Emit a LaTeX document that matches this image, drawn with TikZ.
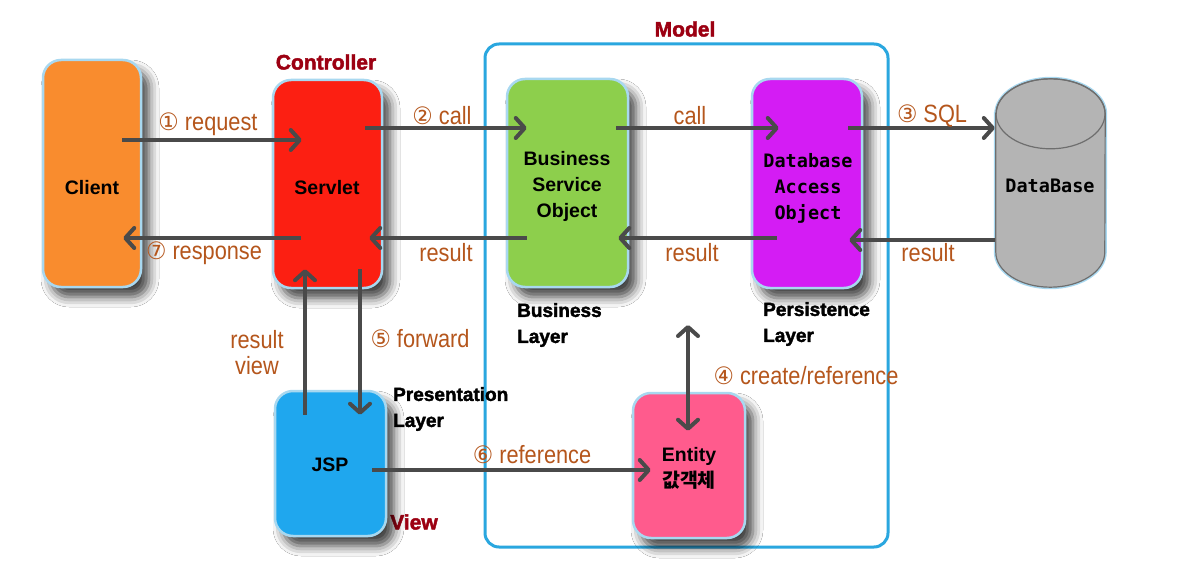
\documentclass[tikz,border=0pt]{standalone}
\usepackage{fontspec}
\setmainfont{Liberation Sans}
\newfontfamily\lblfont{Liberation Sans}[FakeStretch=0.87]
\newfontfamily\circfont{DejaVu Sans}[FakeStretch=0.95]
\newfontfamily\krfont{Noto Sans CJK KR}
\newfontfamily\mymono{DejaVu Sans Mono}
\newfontfamily\heavyfont{Liberation Sans Bold}[FakeBold=2]
\usetikzlibrary{arrows.meta,calc,shadows.blur}
\definecolor{clientc}{HTML}{F98C2E}
\definecolor{servletc}{HTML}{FC1F12}
\definecolor{bsoc}{HTML}{8DCF4C}
\definecolor{daoc}{HTML}{D41CF4}
\definecolor{dbc}{HTML}{B4B4B4}
\definecolor{dbedge}{HTML}{6E6E6E}
\definecolor{jspc}{HTML}{1FA7EE}
\definecolor{entc}{HTML}{FF5B8D}
\definecolor{modelc}{HTML}{2AA7DF}
\definecolor{glowc}{HTML}{A8D8F0}
\definecolor{lblc}{HTML}{B5561C}
\definecolor{darkred}{HTML}{9C0012}
\definecolor{arrc}{HTML}{4A4A4A}
\newcommand\circnum[1]{{\circfont\fontsize{24}{24}\selectfont #1}}
\tikzset{
  box/.style={rectangle, rounded corners=18pt, draw=glowc, line width=2.5pt, inner sep=0pt,
    blur shadow={shadow xshift=8pt, shadow yshift=-10pt, shadow blur radius=10pt, shadow opacity=75}},
  btext/.style={font=\bfseries\fontsize{19.5}{26}\selectfont, align=center, text=black},
  mtext/.style={font=\mymono\bfseries\fontsize{18.5}{26}\selectfont, align=center, text=black},
  lbl/.style={font=\lblfont\fontsize{25}{26}\selectfont, text=lblc, align=center, inner sep=0pt},
  arr/.style={draw=arrc, line width=4pt, -{Straight Barb[length=9pt,width=20pt,round]}},
  dblarr/.style={draw=arrc, line width=4pt, {Straight Barb[length=9pt,width=20pt,round]}-{Straight Barb[length=9pt,width=20pt,round]}},
  ttl/.style={font=\heavyfont\fontsize{21}{24}\selectfont, text=darkred, inner sep=0pt},
  layer/.style={font=\heavyfont\fontsize{19}{26}\selectfont, align=left, anchor=west, inner sep=0pt, text=black}
}
\begin{document}
\begin{tikzpicture}[x=1pt,y=-1pt]
\useasboundingbox[fill=white] (0,0) rectangle (1177,561);
% Model frame
\node[draw=modelc, line width=3pt, rounded corners=14pt, minimum width=403pt, minimum height=503pt, inner sep=0pt] (model) at (686.5,295.5) {};
\node[ttl] (modelt) at (685,29) {Model};
\node[ttl] (ctrlt) at (326,62) {Controller};
\node[ttl] (viewt) at (414,522) {View};
% boxes
\node[box, fill=clientc, minimum width=98pt, minimum height=227pt] (client) at (92,173.5) {};
\node[box, fill=servletc, minimum width=109pt, minimum height=208pt] (servlet) at (327.5,184) {};
\node[box, fill=bsoc, minimum width=121pt, minimum height=208pt] (bso) at (567.5,183) {};
\node[box, fill=daoc, minimum width=110pt, minimum height=209pt] (dao) at (807,183.5) {};
\node[box, fill=jspc, minimum width=111pt, minimum height=145pt] (jsp) at (330.5,463.5) {};
\node[box, fill=entc, minimum width=112pt, minimum height=145pt] (entity) at (689,465.5) {};
% database cylinder
\node[minimum width=109pt, minimum height=208pt, inner sep=0pt] (db) at (1050.5,183) {};
\path[fill=dbc, draw=glowc, line width=4pt] ($(db.north west)+(0,35)$) -- ($(db.south west)+(0,-35)$)
  arc[start angle=180, end angle=0, x radius=54.5, y radius=35] -- ($(db.north east)+(0,35)$)
  arc[start angle=0, end angle=-180, x radius=54.5, y radius=35] -- cycle;
\path[fill=dbc, draw=dbedge, line width=1.2pt] ($(db.north west)+(0,35)$) -- ($(db.south west)+(0,-35)$)
  arc[start angle=180, end angle=0, x radius=54.5, y radius=35] -- ($(db.north east)+(0,35)$)
  arc[start angle=0, end angle=-180, x radius=54.5, y radius=35] -- cycle;
\draw[dbedge, line width=1.2pt] ($(db.north)+(0,35)$) ellipse [x radius=54.5, y radius=35];
% box texts
\node[btext] (clientt) at (92,188) {Client};
\node[btext] (servlett) at (327,188) {Servlet};
\node[btext] (bsot) at (567,186) {Business\\Service\\Object};
\node[mtext] (daot) at (808,188) {Database\\Access\\Object};
\node[mtext] (dbt) at (1050,186) {DataBase};
\node[btext] (jspt) at (330,465) {JSP};
\node[btext] (entt) at (689,468) {Entity\\{\krfont\bfseries 값객체}};
% layer labels
\node[layer] (bl) at (517,325) {Business\\Layer};
\node[layer] (pl) at (763,324) {Persistence\\Layer};
\node[layer] (prl) at (393,409) {Presentation\\Layer};
% connectors
\draw[arr] ($(client.east)+(-20,-33.5)$) -- ($(servlet.west)+(30,-44)$);
\draw[arr] ($(servlet.west)+(29,54)$) -- ($(client.east)+(-19,64.5)$);
\draw[arr] ($(servlet.east)+(-18,-56)$) -- ($(bso.west)+(21,-55)$);
\draw[arr] ($(bso.west)+(21,55)$) -- ($(servlet.east)+(-14,54)$);
\draw[arr] ($(bso.east)+(-13,-55)$) -- ($(dao.west)+(28,-55.5)$);
\draw[arr] ($(dao.west)+(26,54.5)$) -- ($(bso.east)+(-11,55)$);
\draw[arr] ($(dao.east)+(-15,-55.5)$) -- ($(db.west)+(-1,-55)$);
\draw[arr] ($(db.west)+(-1,57)$) -- ($(dao.east)+(-14,56.5)$);
\draw[arr] ($(jsp.north)+(-25.5,25)$) -- ($(servlet.south)+(-22.5,-20)$);
\draw[arr] ($(servlet.south)+(32.5,-20)$) -- ($(jsp.north)+(29.5,25)$);
\coordinate (crtop) at (688,325);
\draw[dblarr] (crtop) -- ($(entity.north)+(-1,39)$);
\draw[arr] ($(jsp.east)+(-15,6.5)$) -- ($(entity.west)+(19,4.5)$);
% connector labels
\node[lbl] (l1) at (208,124) {\circnum{①} request};
\node[lbl] (l7) at (204,253) {\circnum{⑦} response};
\node[lbl] (l2) at (442,116) {\circnum{②} call};
\node[lbl] (lr1) at (446,253) {result};
\node[lbl] (lc) at (690,116) {call};
\node[lbl] (lr2) at (692,253) {result};
\node[lbl] (l3) at (932,116) {\circnum{③} SQL};
\node[lbl] (lr3) at (928,253) {result};
\node[lbl] (lrv) at (257,353) {result\\view};
\node[lbl] (l5) at (420,339) {\circnum{⑤} forward};
\node[lbl] (l4) at (806,376) {\circnum{④} create/reference};
\node[lbl] (l6) at (532,455) {\circnum{⑥} reference};
\end{tikzpicture}
\end{document}
